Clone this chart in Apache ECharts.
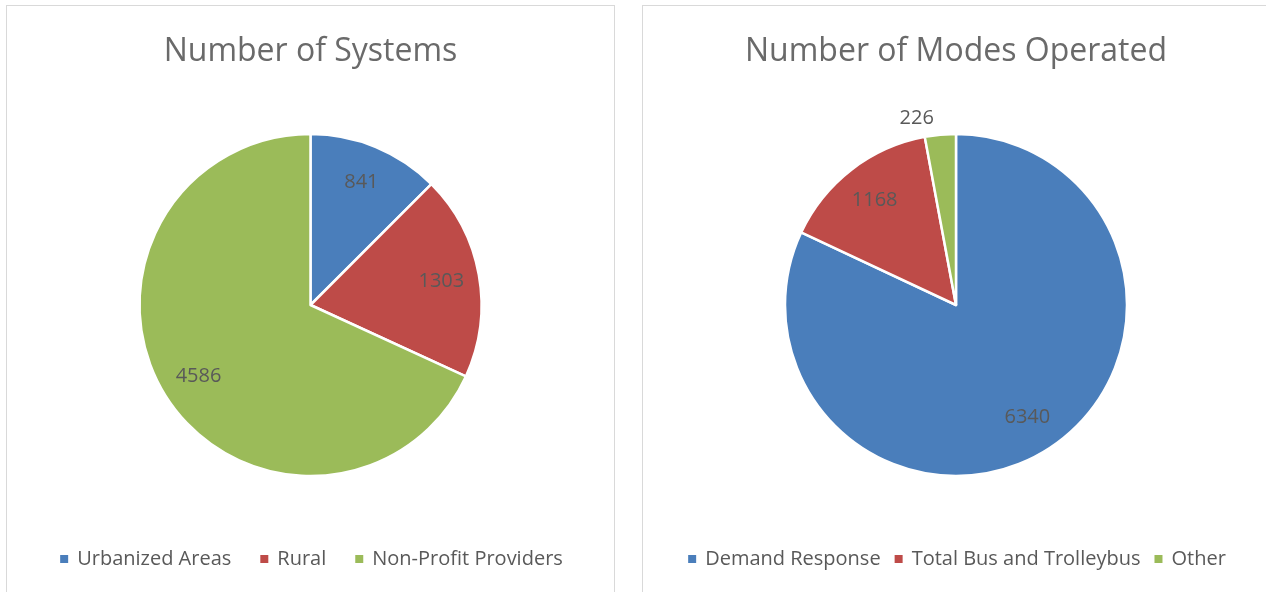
<!DOCTYPE html>
<html><head><meta charset="utf-8">
<script src="https://cdn.jsdelivr.net/npm/echarts@6/dist/echarts.min.js"></script>
<style>
html,body{margin:0;padding:0;width:1266px;height:592px;overflow:hidden;background:#fff;}
.panel{position:absolute;top:5px;height:640px;border:1px solid #d9d9d9;box-sizing:border-box;background:#fff;}
#p1{left:6px;width:609px;}
#p2{left:642px;width:628px;}
</style></head>
<body>
<div id="p1" class="panel"></div>
<div id="p2" class="panel"></div>
<script>
const titles = ['Number of Systems', 'Number of Modes Operated'];
const systemsCategories = ['Urbanized Areas', 'Rural', 'Non-Profit Providers'];
const systemsValues = [841, 1303, 4586];
const modesCategories = ['Demand Response', 'Total Bus and Trolleybus', 'Other'];
const modesValues = [6340, 1168, 226];
const colors = ['#4A7EBB', '#BE4B48', '#9BBB59'];
const outsideLabels = [[], ['Other']];

const FONT = 'Open Sans';
function build(el, title, cats, vals, outside, gap) {
  const chart = echarts.init(document.getElementById(el), null, {renderer: 'canvas'});
  const w = chart.getWidth();
  const cx = w / 2, cy = 299, R = 171;
  const data = cats.map((c, i) => ({name: c, value: vals[i]}));
  const labelData = cats.map((c, i) => {
    const isOut = outside.indexOf(c) >= 0;
    return {
      name: c, value: vals[i],
      label: isOut ? {position: 'outside'} : {position: 'inside'},
      labelLine: {show: false, length: 16, length2: 0}
    };
  });
  chart.setOption({
    animation: false,
    color: colors,
    title: {
      text: title, left: 'center', top: 25,
      textStyle: {fontFamily: FONT, fontSize: 32, fontWeight: 'normal', color: '#6a6a6a'}
    },
    legend: {
      data: cats, left: 'center', top: 538, icon: 'rect',
      itemWidth: 10, itemHeight: 10, itemGap: gap, selectedMode: false,
      textStyle: {fontFamily: FONT, fontSize: 20, color: '#595959', padding: [0, 0, 0, 3]}
    },
    series: [{
      type: 'pie', center: [cx, cy], radius: [0, R], startAngle: 90, clockwise: true,
      data: data, label: {show: false}, labelLine: {show: false}, silent: true,
      itemStyle: {borderColor: '#ffffff', borderWidth: 2.5}
    }, {
      type: 'pie', center: [cx, cy], radius: [R * 0.52, R], startAngle: 90, clockwise: true,
      data: labelData, silent: true, avoidLabelOverlap: false, legendHoverLink: false,
      itemStyle: {color: 'rgba(0,0,0,0)', borderWidth: 0},
      label: {show: true, formatter: '{c}', fontFamily: FONT, fontSize: 20, color: '#595959'},
      emphasis: {disabled: true}
    }]
  });
}
build('p1', titles[0], systemsCategories, systemsValues, outsideLabels[0], 27);
build('p2', titles[1], modesCategories, modesValues, outsideLabels[1], 12);
</script>
</body></html>
